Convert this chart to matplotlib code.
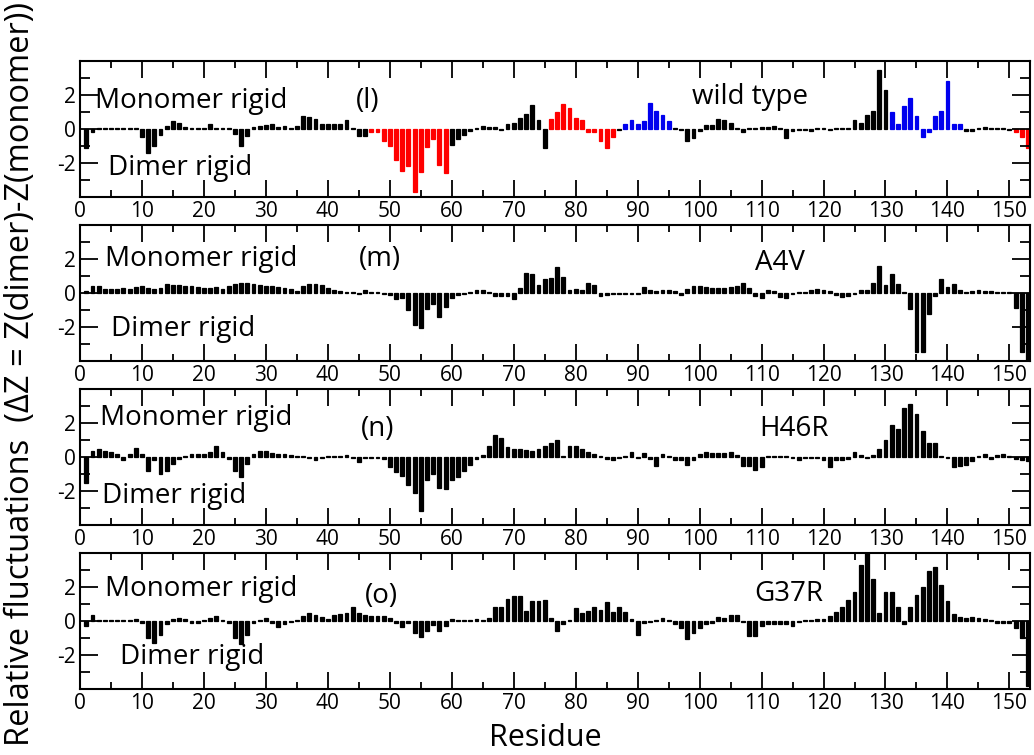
import numpy as np
import matplotlib
matplotlib.use("Agg")
import matplotlib.pyplot as plt
from matplotlib.ticker import FixedLocator, MultipleLocator

plt.rcParams['font.family'] = ['Open Sans', 'DejaVu Sans']
plt.rcParams['axes.unicode_minus'] = False

residues = np.arange(1, 154)

# relative fluctuations dZ per residue
wild_type = [
    -1.1, -0.15, 0.05, 0.05, 0.05, 0.05, 0.05, 0.05, 0.05, -0.5,
    -1.4, -1.0, -0.35, 0.2, 0.45, 0.35, 0.1, 0.05, 0.05, 0.05,
    0.3, 0.05, 0.05, 0.05, -0.3, -1.0, -0.4, 0.1, 0.2, 0.25,
    0.3, 0.1, 0.2, 0.05, 0.2, 0.75, 0.7, 0.6, 0.3, 0.3,
    0.3, 0.3, 0.5, 0.05, -0.4, -0.4, -0.15, -0.15, -0.7, -1.0,
    -1.85, -2.5, -2.2, -3.7, -2.55, -1.05, -0.6, -2.1, -2.6, -0.95,
    -0.6, -0.35, -0.1, 0.05, 0.2, 0.1, 0.1, -0.05, 0.3, 0.35,
    0.65, 0.9, 1.4, 0.5, -1.1, 0.6, 1.0, 1.45, 1.25, 0.65,
    0.5, -0.2, -0.2, -0.7, -1.1, -0.45, -0.05, 0.3, 0.5, 0.3,
    0.45, 1.5, 1.05, 0.8, 0.45, 0.05, -0.05, -0.7, -0.55, -0.1,
    0.25, 0.25, 0.6, 0.5, 0.35, 0.05, -0.15, 0.05, 0.05, 0.1,
    0.1, 0.2, 0.05, -0.55, -0.1, -0.05, -0.05, -0.1, 0.05, 0.05,
    -0.05, 0.05, 0.05, 0.05, 0.5, 0.35, 0.85, 1.05, 3.5, 2.3,
    1.0, 0.3, 1.35, 1.85, 0.75, -0.5, -0.2, 0.75, 1.05, 2.8,
    0.3, 0.3, -0.1, -0.1, 0.05, 0.1, 0.05, 0.05, 0.05, -0.05,
    -0.15, -0.45, -1.1]

a4v = [
    0.1, 0.4, 0.4, 0.25, 0.25, 0.25, 0.3, 0.25, 0.35, 0.4,
    0.3, 0.25, 0.3, 0.55, 0.45, 0.45, 0.4, 0.4, 0.35, 0.3,
    0.3, 0.35, 0.25, 0.4, 0.55, 0.6, 0.6, 0.5, 0.45, 0.4,
    0.4, 0.35, 0.3, 0.25, 0.1, 0.4, 0.55, 0.55, 0.45, 0.3,
    0.2, 0.1, 0.05, 0.05, -0.05, 0.15, 0.05, 0.05, -0.05, -0.1,
    -0.35, -0.3, -1.0, -1.9, -2.05, -0.95, -0.65, -1.4, -0.8, -0.3,
    -0.1, -0.05, 0.05, 0.15, 0.15, 0.05, -0.2, -0.2, -0.2, -0.35,
    0.3, 1.2, 1.1, 0.45, 0.8, 0.9, 1.5, 0.95, 0.2, 0.25,
    0.15, 0.6, 0.45, -0.15, -0.1, -0.05, -0.05, -0.05, -0.05, -0.05,
    0.35, 0.2, 0.1, 0.15, 0.15, 0.1, -0.1, 0.25, 0.4, 0.4,
    0.35, 0.3, 0.3, 0.3, 0.35, 0.4, 0.6, 0.3, -0.2, -0.3,
    0.2, 0.1, -0.25, -0.3, -0.05, 0.05, 0.05, 0.15, 0.25, 0.2,
    0.1, -0.1, -0.25, -0.2, -0.05, 0.15, 0.15, 0.6, 1.6, 0.45,
    1.1, 0.5, 0.05, -0.95, -3.5, -3.45, -1.25, -0.15, 0.85, 0.35,
    0.55, 0.15, 0.05, 0.1, 0.15, 0.1, 0.1, 0.05, 0.05, 0.05,
    -0.9, -3.45, -4.2]

h46r = [
    -1.5, 0.35, 0.45, 0.35, 0.3, 0.15, -0.15, 0.15, 0.55, 0.15,
    -0.85, -0.2, -1.0, -0.8, -0.4, -0.1, 0.05, 0.15, 0.2, 0.2,
    0.3, 0.65, 0.3, -0.1, -0.8, -1.2, -0.4, 0.2, 0.35, 0.35,
    0.25, 0.2, 0.2, 0.1, 0.05, 0.05, -0.05, -0.15, -0.05, 0.05,
    0.05, 0.05, 0.1, -0.05, -0.3, -0.05, -0.05, -0.05, -0.1, -0.6,
    -0.9, -1.1, -1.65, -2.1, -3.15, -1.35, -1.0, -1.85, -1.9, -1.35,
    -1.2, -0.85, -0.45, -0.1, 0.1, 0.65, 1.3, 1.1, 0.6, 0.5,
    0.45, 0.4, 0.35, 0.45, 0.65, 0.8, 1.0, 0.05, 0.65, 0.65,
    0.45, 0.3, 0.15, 0.05, -0.1, -0.15, -0.05, 0.05, 0.3, -0.05,
    0.25, -0.1, -0.5, 0.2, 0.05, -0.2, -0.15, -0.45, -0.15, 0.15,
    0.3, 0.25, 0.25, 0.25, 0.3, 0.1, -0.55, -0.55, -0.75, -0.6,
    0.05, 0.05, 0.05, 0.05, -0.05, -0.15, -0.05, -0.05, -0.05, -0.2,
    -0.6, -0.2, -0.2, -0.1, 0.3, 0.1, -0.05, 0.1, 0.5, 1.0,
    1.9, 1.65, 2.9, 3.1, 2.55, 1.55, 0.85, 0.8, 0.05, -0.05,
    -0.6, -0.55, -0.45, -0.25, 0.05, 0.15, -0.1, 0.1, 0.2, 0.05,
    -0.1, -0.2, -0.25]

g37r = [
    -0.3, 0.35, 0.05, 0.05, 0.05, 0.05, 0.05, 0.05, 0.1, -0.1,
    -1.0, -1.3, -0.85, -0.2, 0.1, 0.15, 0.1, -0.1, -0.1, 0.05,
    0.2, 0.3, 0.05, -0.1, -1.0, -1.35, -0.8, -0.1, 0.05, 0.15,
    -0.1, -0.35, -0.2, -0.05, 0.05, 0.3, 0.5, 0.35, 0.25, 0.1,
    0.35, 0.4, 0.5, 0.8, 0.5, 0.35, 0.3, 0.3, 0.3, 0.15,
    -0.1, -0.35, -0.1, -0.7, -0.95, -0.6, -0.25, -0.6, -0.3, 0.1,
    0.05, 0.05, 0.05, 0.1, 0.05, 0.15, 0.85, 0.85, 1.3, 1.45,
    1.5, 0.6, 1.2, 1.2, 1.25, 0.2, -0.6, -0.2, 0.05, 0.75,
    0.5, 0.6, 0.8, 0.65, 1.1, 0.55, 0.85, 0.55, 0.1, -0.8,
    -0.1, -0.05, 0.05, 0.2, 0.05, -0.15, -0.4, -1.05, -0.7, -0.4,
    -0.2, -0.1, 0.25, 0.2, 0.35, 0.35, -0.05, -0.9, -0.9, -0.3,
    -0.15, -0.2, -0.2, -0.2, -0.3, -0.05, 0.05, 0.05, 0.1, 0.1,
    0.3, 0.55, 0.8, 1.25, 1.7, 3.3, 4.2, 2.5, 0.45, 1.7,
    1.7, 0.8, -0.2, 0.8, 1.55, 2.0, 2.95, 3.2, 2.1, 1.2,
    0.4, 0.25, 0.2, 0.25, 0.2, 0.1, 0.05, -0.1, -0.1, -0.1,
    -0.4, -1.0, -3.8]

# residue ranges highlighted in the wild type panel
red_ranges = [(47, 59), (76, 86), (151, 153)]
blue_ranges = [(88, 95), (131, 142)]

panels = [
    (wild_type, '(l)', 'wild type'),
    (a4v, '(m)', 'A4V'),
    (h46r, '(n)', 'H46R'),
    (g37r, '(o)', 'G37R'),
]
# label positions (x, y) in data units: monomer text, panel tag, mutant name, dimer text
label_pos = [
    [(2.4, 1.65), (44.5, 1.65), (98.7, 1.9), (4.5, -2.3)],
    [(4.0, 2.0), (45.0, 2.0), (109.0, 1.75), (5.0, -2.1)],
    [(3.2, 2.3), (45.3, 1.65), (109.6, 1.65), (3.5, -2.3)],
    [(4.0, 1.9), (46.0, 1.5), (108.8, 1.6), (6.4, -2.1)],
]

wt_colors = []
for r in residues:
    c = 'black'
    for a, b in red_ranges:
        if a <= r <= b:
            c = '#ff0000'
    for a, b in blue_ranges:
        if a <= r <= b:
            c = '#0000ee'
    wt_colors.append(c)

fig = plt.figure(figsize=(10.34, 7.55), dpi=100)
bottoms = [0.7391, 0.5219, 0.3046, 0.0874]
lab_fs = 20
tick_fs = 15

for i, (vals, tag, name) in enumerate(panels):
    ax = fig.add_axes([0.0774, bottoms[i], 0.9186, 0.1801])
    cols = wt_colors if i == 0 else 'black'
    ax.bar(residues, vals, width=0.62, color=cols, edgecolor=cols, linewidth=0.9)
    ax.set_xlim(0, 153.3)
    ax.set_ylim(-4, 4)
    ax.xaxis.set_major_locator(MultipleLocator(10))
    ax.xaxis.set_minor_locator(MultipleLocator(5))
    ax.yaxis.set_major_locator(FixedLocator([-2, 0, 2]))
    ax.yaxis.set_minor_locator(MultipleLocator(1))
    ax.tick_params(which='both', direction='in', top=True, right=True, labelsize=tick_fs, width=1.3)
    ax.tick_params(axis='x', which='major', length=12, pad=3)
    ax.tick_params(axis='x', which='minor', length=5)
    ax.tick_params(axis='y', which='major', length=13, pad=3)
    ax.tick_params(axis='y', which='minor', length=7)
    for sp in ax.spines.values():
        sp.set_linewidth(1.5)

    p = label_pos[i]
    ax.text(p[0][0], p[0][1], 'Monomer rigid', fontsize=lab_fs, va='center', ha='left')
    ax.text(p[1][0], p[1][1], tag, fontsize=lab_fs, va='center', ha='left')
    ax.text(p[2][0], p[2][1], name, fontsize=lab_fs, va='center', ha='left')
    ax.text(p[3][0], p[3][1], 'Dimer rigid', fontsize=lab_fs, va='center', ha='left')

fig.text(0.527, 0.022, 'Residue', fontsize=22, ha='center', va='center')
fig.text(0.02, 0.505, 'Relative fluctuations  (\u0394Z = Z(dimer)-Z(monomer))',
         fontsize=23.5, rotation=90, ha='center', va='center')

plt.savefig('out.png', dpi=100)
plt.close()
